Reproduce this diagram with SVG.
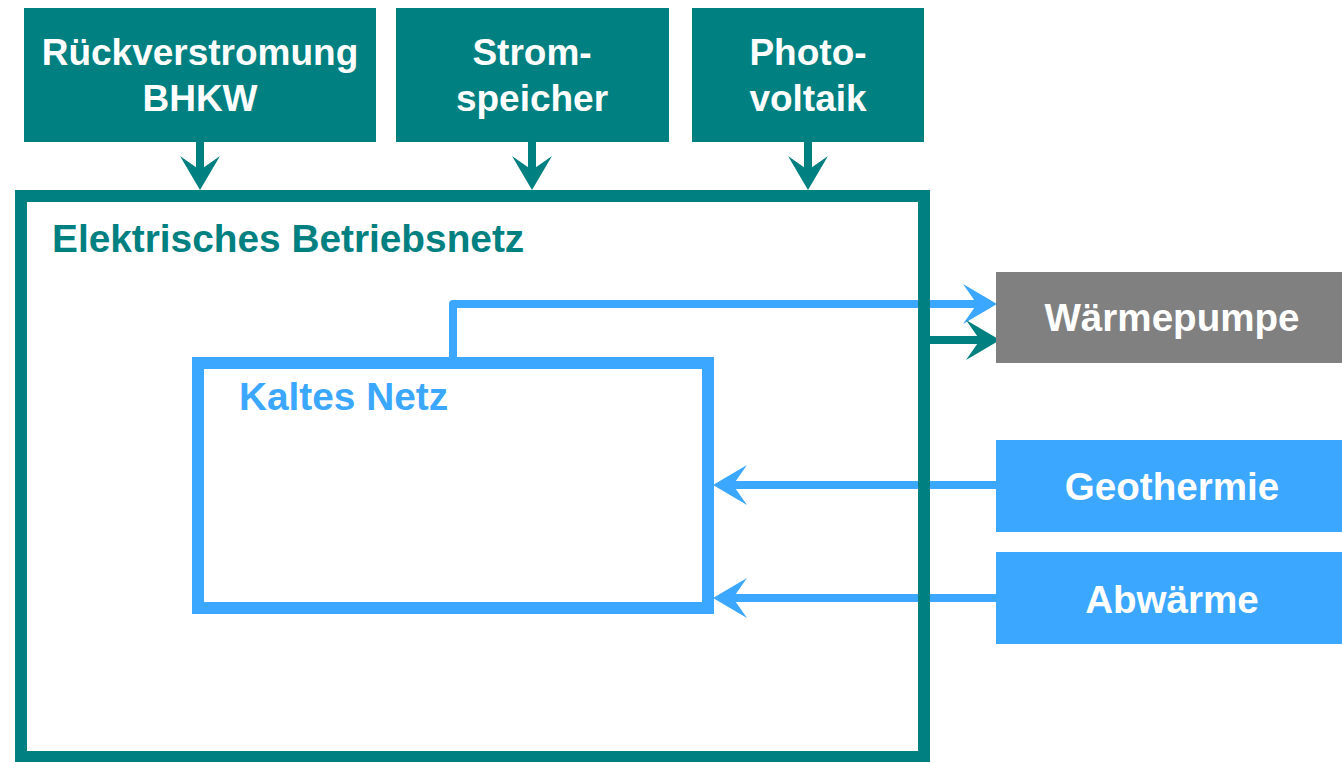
<svg xmlns="http://www.w3.org/2000/svg" width="1342" height="762" viewBox="0 0 1342 762">
  <style>
    .teal { fill: #008080; }
    .gray { fill: #808080; }
    .blue { fill: #3BA7FF; }
    .lbl { font-family: "Liberation Sans", Arial, sans-serif; font-weight: bold; fill: #ffffff; text-anchor: middle; }
    .top { font-size: 37px; }
    .side { font-size: 38.6px; }
    .title { font-family: "Liberation Sans", Arial, sans-serif; font-weight: bold; font-size: 38.8px; }
    .ln-teal { stroke: #008080; stroke-width: 8; fill: none; }
    .ln-blue { stroke: #3BA7FF; stroke-width: 8; fill: none; stroke-linejoin: round; }
  </style>
  <defs>
    <!-- stealth arrowheads: line ends at the notch, tip sits 20px further on -->
    <marker id="arrTeal" markerUnits="userSpaceOnUse" viewBox="-16 -22 40 44" markerWidth="40" markerHeight="44" refX="0" refY="0" orient="auto">
      <path d="M20,0 L-14,-20 L0,0 L-14,20 Z" fill="#008080"/>
    </marker>
    <marker id="arrBlue" markerUnits="userSpaceOnUse" viewBox="-16 -22 40 44" markerWidth="40" markerHeight="44" refX="0" refY="0" orient="auto">
      <path d="M20,0 L-14,-20 L0,0 L-14,20 Z" fill="#3BA7FF"/>
    </marker>
  </defs>

  <rect width="1342" height="762" fill="#ffffff"/>

  <g id="connectors">
    <path class="ln-teal" d="M200,142 V170" marker-end="url(#arrTeal)"/>
    <path class="ln-teal" d="M532,142 V170" marker-end="url(#arrTeal)"/>
    <path class="ln-teal" d="M808,142 V170" marker-end="url(#arrTeal)"/>
    <path class="ln-blue" d="M453,363 V304 H977" marker-end="url(#arrBlue)"/>
    <path class="ln-teal" d="M926,340 H980" marker-end="url(#arrTeal)"/>
    <path class="ln-blue" d="M996,485 H733" marker-end="url(#arrBlue)"/>
    <path class="ln-blue" d="M996,598 H733" marker-end="url(#arrBlue)"/>
  </g>

  <g id="betriebsnetz">
    <rect x="21" y="196" width="903" height="561" fill="none" stroke="#008080" stroke-width="12"/>
    <text class="title" x="52" y="252" fill="#008080">Elektrisches Betriebsnetz</text>
  </g>

  <g id="kaltes-netz">
    <rect x="198" y="363" width="510" height="245" fill="none" stroke="#3BA7FF" stroke-width="12"/>
    <text class="title" x="239" y="410" fill="#3BA7FF">Kaltes Netz</text>
  </g>

  <g id="rueckverstromung">
    <rect class="teal" x="24" y="8" width="352" height="134"/>
    <text class="lbl top" x="200" y="65">Rückverstromung</text>
    <text class="lbl top" x="200" y="111">BHKW</text>
  </g>

  <g id="stromspeicher">
    <rect class="teal" x="396" y="8" width="273" height="134"/>
    <text class="lbl top" x="532" y="65">Strom-</text>
    <text class="lbl top" x="532" y="111">speicher</text>
  </g>

  <g id="photovoltaik">
    <rect class="teal" x="692" y="8" width="232" height="134"/>
    <text class="lbl top" x="808" y="65">Photo-</text>
    <text class="lbl top" x="808" y="111">voltaik</text>
  </g>

  <g id="waermepumpe">
    <rect class="gray" x="996" y="272" width="346" height="91"/>
    <text class="lbl side" x="1172" y="331">Wärmepumpe</text>
  </g>

  <g id="geothermie">
    <rect class="blue" x="996" y="440" width="346" height="92"/>
    <text class="lbl side" x="1172" y="500">Geothermie</text>
  </g>

  <g id="abwaerme">
    <rect class="blue" x="996" y="552" width="346" height="92"/>
    <text class="lbl side" x="1172" y="613">Abwärme</text>
  </g>
</svg>
